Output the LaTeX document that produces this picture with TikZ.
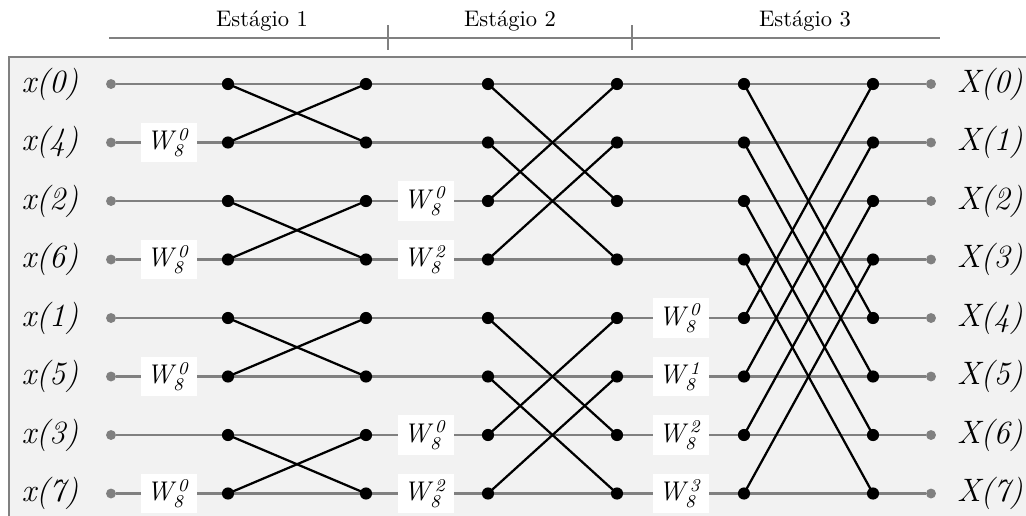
\documentclass[tikz,border=0pt]{standalone}
\usepackage{tikz}
\definecolor{framegray}{RGB}{128,128,128}
\definecolor{panelgray}{RGB}{242,242,242}
\definecolor{wiregray}{RGB}{128,128,128}

\tikzset{
  bdot/.style={circle, fill=black, inner sep=0pt, minimum size=5.4pt},
  gdot/.style={circle, fill=wiregray, inner sep=0pt, minimum size=4.4pt},
  wire/.style={wiregray, line width=1.1pt},
  bfly/.style={black, line width=1pt},
  twid/.style={fill=white, inner sep=2.6pt, font=\large},
  lbl/.style={font=\Large},
}

\begin{document}
\begin{tikzpicture}[x=0.444pt, y=-0.444pt]
    \useasboundingbox (0,0) rectangle (1026,515);
    \clip (0,0) rectangle (1026,515);

    % Panel
    \draw[framegray, line width=1.2pt, fill=panelgray] (9,57) rectangle (1040,530);

    % Stage header
    \coordinate (hs) at (109,38);
    \coordinate (he) at (940,38);
    \draw[wire] (hs) -- (he);
    \foreach \t/\xt in {1/388,2/632} {
        \coordinate (tt\t) at (\xt,25);
        \coordinate (tb\t) at (\xt,50);
        \draw[wire] (tt\t) -- (tb\t);
    }
    \node (st1) at (262,21) {Estágio 1};
    \node (st2) at (510,21) {Estágio 2};
    \node (st3) at (805,21) {Estágio 3};

    % Rows: labels, gray dots, wires
    \foreach \r/\n in {0/0,1/4,2/2,3/6,4/1,5/5,6/3,7/7} {
        \pgfmathsetmacro\y{84+58.5*\r}
        \node[lbl] (x\r) at (50,\y) {\textit{x(\n)}};
        \node[lbl] (X\r) at (990,\y) {\textit{X(\r)}};
        \node[gdot] (in\r) at (111,\y) {};
        \node[gdot] (out\r) at (931,\y) {};
        \draw[wire] (in\r) -- (out\r);
    }

    % Twiddle factors
    \foreach \r/\xw/\e in {1/169/0,3/169/0,5/169/0,7/169/0,
                           2/426/0,3/426/2,6/426/0,7/426/2,
                           4/681/0,5/681/1,6/681/2,7/681/3} {
        \pgfmathsetmacro\y{84+58.5*\r}
        \node[twid] (w\r-\xw) at (\xw,\y) {$\mathit{W_8^\e}$};
    }

    % Butterfly dots
    \foreach \r in {0,...,7} {
        \pgfmathsetmacro\y{84+58.5*\r}
        \node[bdot] (a\r) at (228,\y) {};
        \node[bdot] (b\r) at (366,\y) {};
        \node[bdot] (c\r) at (488,\y) {};
        \node[bdot] (d\r) at (617,\y) {};
        \node[bdot] (e\r) at (744,\y) {};
        \node[bdot] (f\r) at (873,\y) {};
    }

    % Stage 1
    \foreach \p in {0,2,4,6} {
        \pgfmathtruncatemacro\q{\p+1}
        \draw[bfly] (a\p.center) -- (b\q.center);
        \draw[bfly] (a\q.center) -- (b\p.center);
    }
    % Stage 2
    \foreach \p in {0,1,4,5} {
        \pgfmathtruncatemacro\q{\p+2}
        \draw[bfly] (c\p.center) -- (d\q.center);
        \draw[bfly] (c\q.center) -- (d\p.center);
    }
    % Stage 3
    \foreach \p in {0,...,3} {
        \pgfmathtruncatemacro\q{\p+4}
        \draw[bfly] (e\p.center) -- (f\q.center);
        \draw[bfly] (e\q.center) -- (f\p.center);
    }
\end{tikzpicture}
\end{document}
